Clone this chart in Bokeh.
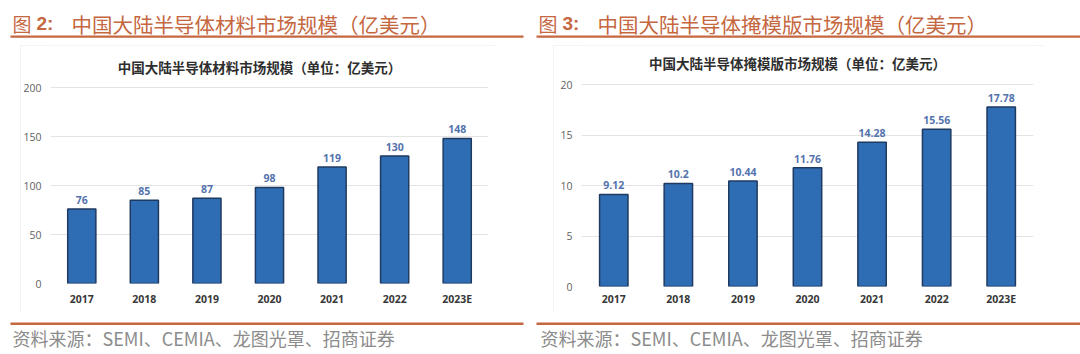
from bokeh.plotting import figure
from bokeh.models import Range1d, Label, BoxAnnotation, FactorRange, Spacer, FixedTicker
from bokeh.layouts import row, column
from bokeh.embed import file_html
from bokeh.resources import INLINE

# ---- data ----
years = ["2017", "2018", "2019", "2020", "2021", "2022", "2023E"]
materials = [76, 85, 87, 98, 119, 130, 148]
materials_labels = ["76", "85", "87", "98", "119", "130", "148"]
masks = [9.12, 10.2, 10.44, 11.76, 14.28, 15.56, 17.78]
masks_labels = ["9.12", "10.2", "10.44", "11.76", "14.28", "15.56", "17.78"]

fig_no_left = "2:"
fig_no_right = "3:"
title_left = "中国大陆半导体材料市场规模（亿美元）"
title_right = "中国大陆半导体掩模版市场规模（亿美元）"
inner_left = "中国大陆半导体材料市场规模（单位：亿美元）"
inner_right = "中国大陆半导体掩模版市场规模（单位：亿美元）"
source = "资料来源：SEMI、CEMIA、龙图光罩、招商证券"
y_ticks_left = [0, 50, 100, 150, 200]
y_ticks_right = [0, 5, 10, 15, 20]

CJK = "Noto Sans CJK SC"
ORANGE = "#c5673f"
BAR = "#2e6db4"
BAR_LINE = "#1f3a60"
VAL = "#5473ad"


def deco_fig(width, height):
    p = figure(width=width, height=height, x_range=Range1d(0, width), y_range=Range1d(height, 0),
               output_backend="svg", toolbar_location=None, x_axis_location=None,
               y_axis_location=None, min_border=0)
    p.outline_line_color = None
    p.xgrid.grid_line_color = None
    p.ygrid.grid_line_color = None
    p.background_fill_color = "white"
    p.border_fill_color = "white"
    return p


def header(width, x0, fig_no, title, rule):
    p = deco_fig(width, 45)
    p.add_layout(Label(x=x0, y=23, text="图", text_font=CJK, text_font_size="19px",
                       text_color=ORANGE, text_baseline="middle", text_align="left"))
    p.add_layout(Label(x=x0 + 24, y=23, text=fig_no, text_font="Liberation Sans", text_font_size="19px",
                       text_font_style="bold", text_color=ORANGE, text_baseline="middle",
                       text_align="left"))
    p.add_layout(Label(x=x0 + 59, y=23, text=title, text_font=CJK, text_font_size="20.5px",
                       text_color=ORANGE, text_baseline="middle", text_align="left"))
    p.add_layout(BoxAnnotation(left=rule[0], right=rule[1], top=35, bottom=37.2,
                               fill_color=ORANGE, fill_alpha=1, line_color=None))
    return p


def footer(width, x0, rule):
    p = deco_fig(width, 41)
    p.add_layout(BoxAnnotation(left=rule[0], right=rule[1], top=9, bottom=11.6,
                               fill_color=ORANGE, fill_alpha=1, line_color=None))
    p.add_layout(Label(x=x0, y=24.5, text=source, text_font=CJK, text_font_size="18px",
                       text_color="#8c8c8c", text_baseline="middle", text_align="left"))
    return p


def chart(width, height, bl, br, bb, yend, yt, vals, labels, bar_w, inner, ix, iy, xstand):
    p = figure(width=width, height=height, x_range=FactorRange(*years),
               y_range=Range1d(0, yend), output_backend="svg", toolbar_location=None,
               min_border_left=bl, min_border_right=br, min_border_top=0, min_border_bottom=bb)
    p.outline_line_color = None
    p.background_fill_color = "white"
    p.border_fill_color = "white"
    p.xgrid.grid_line_color = None
    p.ygrid.grid_line_color = "#e3e3e3"
    p.ygrid.ticker = FixedTicker(ticks=yt)
    p.yaxis.ticker = FixedTicker(ticks=yt)
    for ax in (p.xaxis[0], p.yaxis[0]):
        ax.axis_line_color = None
        ax.major_tick_line_color = None
        ax.minor_tick_line_color = None
        ax.major_tick_out = 0
        ax.major_tick_in = 0
        ax.minor_tick_out = 0
        ax.minor_tick_in = 0
    p.yaxis.major_label_text_font = "Open Sans"
    p.yaxis.major_label_text_font_size = "10.5px"
    p.yaxis.major_label_text_color = "#5f5f5f"
    p.yaxis.major_label_standoff = 9
    p.xaxis.major_label_text_font = "Open Sans"
    p.xaxis.major_label_text_font_size = "10.5px"
    p.xaxis.major_label_text_font_style = "bold"
    p.xaxis.major_label_text_color = "#383838"
    p.xaxis.major_label_standoff = xstand

    p.vbar(x=years, top=vals, width=bar_w, fill_color=BAR, line_color=BAR_LINE, line_width=1.5)
    p.text(x=years, y=vals, text=labels, text_align="center", text_baseline="bottom",
           y_offset=-5, text_font_size="10.5px", text_font_style="bold", text_color=VAL,
           text_font={"value": "Open Sans"})
    p.add_layout(Label(x=ix, y=iy, x_units="screen", y_units="screen", text=inner,
                       text_font=CJK, text_font_size="13.5px", text_font_style="bold",
                       text_color="#2e2e2e", text_baseline="middle", text_align="center"))
    p.styles = {"outline": "1px solid #efefef", "outline-offset": "-1px"}
    return p


# left panel (global x 0..535)
lc = chart(476, 268, 29, 8, 30, 238 / 0.98, y_ticks_left, materials, materials_labels, 0.45,
           inner_left, 209, 217, 8)
left = column(header(535, 12, fig_no_left, title_left, (10, 523)),
              row(Spacer(width=20, height=268), lc, Spacer(width=39, height=268)),
              footer(535, 12, (10, 523)))

# right panel (global x 535..1080)
rc = chart(490, 268, 28, 10, 27, 241 / 10.1, y_ticks_right, masks, masks_labels, 0.44,
           inner_right, 216, 224, 5)
right = column(header(545, 3, fig_no_right, title_right, (1, 545)),
               row(Spacer(width=18, height=268), rc, Spacer(width=37, height=268)),
               footer(545, 5, (1, 545)))

layout = row(left, right)
open("out.html", "w").write(file_html(layout, INLINE))
